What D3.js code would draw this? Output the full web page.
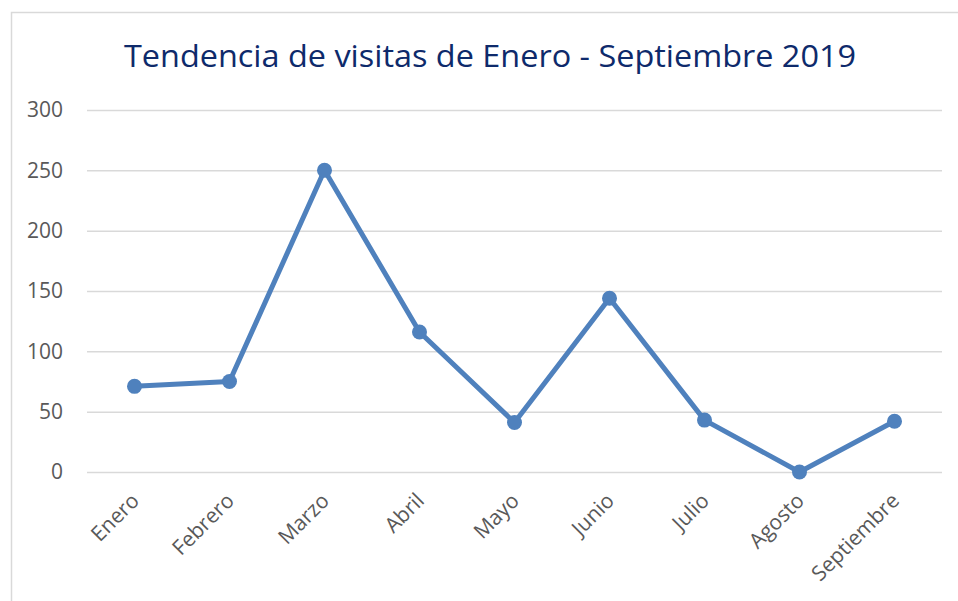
<!DOCTYPE html>
<html>
<head>
<meta charset="utf-8">
<script src="https://cdnjs.cloudflare.com/ajax/libs/d3/7.8.5/d3.min.js"></script>
<style>
body { margin:0; background:#fff; }
svg { display:block; font-family:"Open Sans", "Noto Sans", sans-serif; }
</style>
</head>
<body>
<div id="chart"></div>
<script>
// data
var months = ["Enero", "Febrero", "Marzo", "Abril", "Mayo", "Junio", "Julio", "Agosto", "Septiembre"];
var visits = [71, 75, 250, 116, 41, 144, 43, 0, 42];
var yTicks = [0, 50, 100, 150, 200, 250, 300];
var title = "Tendencia de visitas de Enero - Septiembre 2019";

var W = 958, H = 601;
var margin = {top:110, left:87, right:16, bottom:129};

var svg = d3.select("#chart").append("svg")
  .attr("width", W)
  .attr("height", H);

// chart area border (cut off at right/bottom like the screenshot)
svg.append("rect")
  .attr("x", 11.5).attr("y", 12.5)
  .attr("width", W + 20).attr("height", H + 20)
  .attr("fill", "none")
  .attr("stroke", "#d9d9d9")
  .attr("stroke-width", 1.5);

var x = d3.scaleBand()
  .domain(months)
  .range([margin.left, W - margin.right]);

var y = d3.scaleLinear()
  .domain([0, 300])
  .range([H - margin.bottom, margin.top]);

// title
svg.append("text")
  .attr("x", 490).attr("y", 67)
  .attr("text-anchor", "middle")
  .attr("fill", "#0e2a6b")
  .attr("font-size", 31)
  .attr("textLength", 732)
  .attr("lengthAdjust", "spacingAndGlyphs")
  .text(title);

// y axis with gridlines
var yAxis = svg.append("g")
  .attr("transform", "translate(" + margin.left + ",0)")
  .call(d3.axisLeft(y)
    .tickValues(yTicks)
    .tickSize(-(W - margin.left - margin.right))
    .tickPadding(24));
yAxis.select(".domain").remove();
yAxis.selectAll(".tick line")
  .attr("stroke", "#d9d9d9")
  .attr("stroke-width", 1.5);
yAxis.selectAll(".tick text")
  .attr("fill", "#595959")
  .attr("font-size", 21)
  .attr("font-family", "'Open Sans', sans-serif");

// x axis labels, rotated
var xAxis = svg.append("g")
  .attr("transform", "translate(0," + y(0) + ")")
  .call(d3.axisBottom(x).tickSize(0).tickPadding(0));
xAxis.select(".domain").remove();
xAxis.selectAll(".tick text")
  .attr("fill", "#595959")
  .attr("font-size", 21)
  .attr("font-family", "'Open Sans', sans-serif")
  .attr("text-anchor", "end")
  .attr("dy", null)
  .attr("y", 0)
  .attr("transform", "translate(6,30) rotate(-45)");

// line + markers
var cx = function(d, i){ return x(months[i]) + x.bandwidth() / 2; };

var line = d3.line()
  .x(cx)
  .y(function(d){ return y(d); });

svg.append("path")
  .datum(visits)
  .attr("d", line)
  .attr("fill", "none")
  .attr("stroke", "#4f81bd")
  .attr("stroke-width", 5)
  .attr("stroke-linejoin", "round");

svg.selectAll(".dot")
  .data(visits)
  .enter().append("circle")
  .attr("class", "dot")
  .attr("cx", cx)
  .attr("cy", function(d){ return y(d); })
  .attr("r", 7.5)
  .attr("fill", "#4f81bd");
</script>
</body>
</html>
